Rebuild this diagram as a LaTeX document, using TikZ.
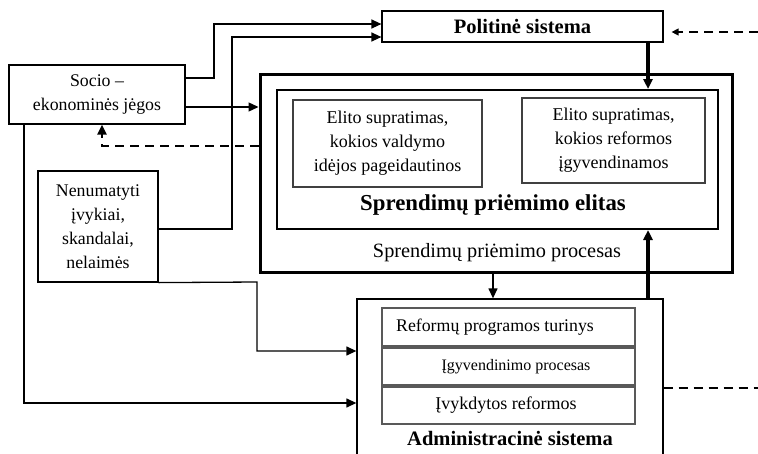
\documentclass[tikz,border=0pt]{standalone}
\usepackage{fontspec}
\setmainfont{Liberation Serif}
\usetikzlibrary{arrows.meta}
\begin{document}
\begin{tikzpicture}[x=1pt,y=-1pt,
  txt/.style={inner sep=0pt, align=center, font=\fontsize{17.8}{24}\selectfont},
  box/.style={draw, line width=1.2pt, inner sep=0pt, align=center, font=\fontsize{17.8}{24}\selectfont},
  graybox/.style={draw=black!75, line width=1.5pt, inner sep=0pt, align=center, font=\fontsize{18}{24}\selectfont},
  stackbox/.style={draw=black!65, line width=2pt, fill=white, inner sep=0pt},
  conn/.style={line width=1.3pt, -{Triangle[length=10pt,width=9pt]}},
  thickconn/.style={line width=3.2pt, -{Triangle[length=10pt,width=9pt]}},
  dashconn/.style={line width=2pt, dash pattern=on 9pt off 6pt},
]
\useasboundingbox (0,0) rectangle (758,453);
\clip (0,0) rectangle (758,453);
\fill[white] (0,0) rectangle (758,453);

% nodes
\node[box, minimum width=176pt, minimum height=59pt] (socio) at (97,94.5) {Socio –\\ekonominės jėgos};
\node[box, minimum width=281pt, minimum height=31pt, font=\fontsize{20.5}{22}\selectfont\bfseries] (pol) at (522.5,26.5) {Politinė sistema};
\node[draw, line width=3pt, minimum width=472pt, minimum height=198pt, inner sep=0pt] (outer) at (496,173) {};
\node[draw, line width=2pt, minimum width=441pt, minimum height=139pt, inner sep=0pt] (inner) at (497.5,159.5) {};
\node[graybox, minimum width=189pt, minimum height=87pt] (el1) at (387.5,143.5) {Elito supratimas,\\kokios valdymo\\idėjos pageidautinos};
\node[graybox, minimum width=183pt, minimum height=85pt] (el2) at (613.5,140.5) {Elito supratimas,\\kokios reformos\\įgyvendinamos};
\node[txt, font=\fontsize{22.8}{24}\selectfont\bfseries] (elitas) at (493,205) {Sprendimų priėmimo elitas};
\node[txt, font=\fontsize{20.3}{24}\selectfont] (procesas) at (497,253) {Sprendimų priėmimo procesas};
\node[box, minimum width=120pt, minimum height=111pt] (nen) at (98,226.5) {Nenumatyti\\įvykiai,\\skandalai,\\nelaimės};
\node[draw, line width=1.3pt, minimum width=306pt, minimum height=165pt, inner sep=0pt] (adm) at (510,381.5) {};
\node[stackbox, minimum width=253pt, minimum height=38pt] (r1) at (508.5,327) {};
\node[stackbox, minimum width=253pt, minimum height=37pt] (r2) at (508.5,366.5) {};
\node[stackbox, minimum width=253pt, minimum height=37pt] (r3) at (508.5,405.5) {};
\node[txt, font=\fontsize{17.8}{20}\selectfont] (t1) at (495,327) {Reformų programos turinys};
\node[txt, font=\fontsize{16}{20}\selectfont] (t2) at (516,366.5) {Įgyvendinimo procesas};
\node[txt, font=\fontsize{18}{20}\selectfont] (t3) at (506,405.5) {Įvykdytos reformos};
\node[txt, font=\fontsize{20.5}{22}\selectfont\bfseries] (admt) at (510,438) {Administracinė sistema};

\coordinate (rightA) at (758,32);
\coordinate (rightB) at (758,388);

% connectors
\draw[conn] (socio.east |- 0,78) -- (214,78) |- (pol.west |- 0,24);
\draw[conn] (nen.east |- 0,229) -- (232,229) |- (pol.west |- 0,37);
\draw[conn] (socio.east |- 0,107) -- (outer.west |- 0,107);
\draw[dashconn] (outer.west |- 0,146) -- (102,146) -- (102,136);
\draw[line width=2pt, -{Triangle[length=10pt,width=9pt]}] (102,136) -- (socio.south -| 102,0);
\draw[thickconn] (pol.south -| 648,0) -- (inner.north -| 648,0);
\draw[dashconn] (rightA) -- (682,32);
\draw[line width=1.3pt, -{Triangle[length=7pt,width=7pt]}] (682,32) -- ([xshift=8pt]pol.east |- rightA);
\draw[conn] (nen.south east) -- (257,282) |- (adm.west |- 0,351);
\draw[conn] (socio.south -| 24,0) |- (adm.west |- 0,403);
\draw[conn] (outer.south -| 493,0) -- (adm.north -| 493,0);
\draw[thickconn] (adm.north -| 648,0) -- (inner.south -| 648,0);
\draw[dashconn] (adm.east |- rightB) -- (rightB);
\end{tikzpicture}
\end{document}
